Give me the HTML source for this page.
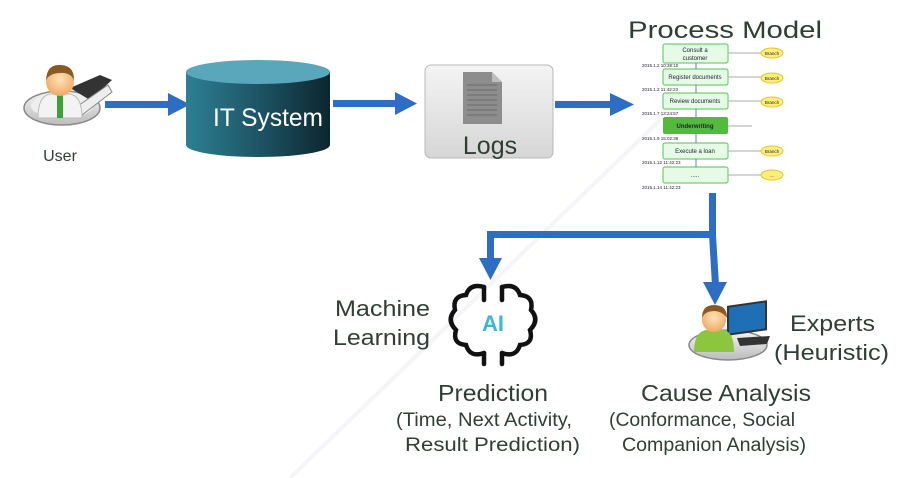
<!DOCTYPE html>
<html><head><meta charset="utf-8"><style>
html,body{margin:0;padding:0;background:#fff;width:921px;height:478px;overflow:hidden}
svg{display:block}
text{font-family:"Liberation Sans Narrow","Liberation Sans",sans-serif}
</style></head><body>
<svg width="921" height="478" viewBox="0 0 921 478" xmlns="http://www.w3.org/2000/svg">
<defs>
<linearGradient id="cyl" x1="0" x2="1"><stop offset="0" stop-color="#2d7f93"/><stop offset="0.5" stop-color="#1d5566"/><stop offset="1" stop-color="#0c2630"/></linearGradient>
<linearGradient id="logs" x1="0" y1="0" x2="0" y2="1"><stop offset="0" stop-color="#f4f4f4"/><stop offset="1" stop-color="#d6d6d6"/></linearGradient>
<radialGradient id="face" cx="0.5" cy="0.4" r="0.6"><stop offset="0" stop-color="#ffe3bd"/><stop offset="1" stop-color="#f0a860"/></radialGradient>
<linearGradient id="plat" x1="0" y1="0" x2="0" y2="1"><stop offset="0" stop-color="#f5f5f5"/><stop offset="1" stop-color="#bcbcbc"/></linearGradient>
</defs>
<line x1="290" y1="478" x2="660" y2="120" stroke="#f4f5f8" stroke-width="4"/>

<!-- User icon -->
<ellipse cx="62" cy="108" rx="38" ry="17" fill="url(#plat)" stroke="#888" stroke-width="1.5"/>
<ellipse cx="62" cy="106" rx="31" ry="12" fill="#eee"/>
<path d="M70 88 L100 75 L112 80 L90 100 Z" fill="#333"/>
<path d="M75 108 L108 85 L112 92 L82 115 Z" fill="#eee" stroke="#888"/>
<path d="M38 118 Q38 96 50 94 L70 94 Q82 96 82 118 Z" fill="#f3f3f3" stroke="#bbb"/>
<rect x="57" y="95" width="6" height="23" fill="#3aa23a"/>
<circle cx="60" cy="82" r="14" fill="url(#face)"/>
<path d="M46 80 Q47 64 60 65 Q74 65 74 80 Q70 72 60 73 Q50 73 46 80 Z" fill="#8a5a22"/>
<text x="60" y="161" font-size="16" fill="#2f3f33" text-anchor="middle" font-family="Liberation Sans">User</text>

<g fill="#2d6ec4">
<rect x="105" y="101" width="66" height="7"/><polygon points="168,93 190,104.5 168,116"/>
<rect x="333" y="100" width="64" height="7"/><polygon points="395,92 417,103.5 395,115"/>
<rect x="555" y="101" width="58" height="7"/><polygon points="610,93 634,104.5 610,116"/>
</g>

<path d="M186 72 L186 145 A72 12 0 0 0 330 145 L330 72 Z" fill="url(#cyl)"/>
<ellipse cx="258" cy="72" rx="72" ry="12" fill="#5aa6bb"/>
<text x="268" y="126" font-size="25" fill="#fff" text-anchor="middle" font-family="Liberation Sans" textLength="110" lengthAdjust="spacingAndGlyphs">IT System</text>

<rect x="425" y="65" width="128" height="93" rx="6" fill="url(#logs)" stroke="#b8b8b8"/>
<path d="M463 72 L492 72 L502 82 L502 124 L463 124 Z" fill="#8d8d8d"/>
<path d="M492 72 L492 82 L502 82 Z" fill="#bdbdbd"/>
<g stroke="#6a6a6a" stroke-width="1"><line x1="467" y1="85" x2="497" y2="85"/><line x1="467" y1="90" x2="497" y2="90"/><line x1="467" y1="95" x2="497" y2="95"/><line x1="467" y1="100" x2="497" y2="100"/><line x1="467" y1="105" x2="497" y2="105"/><line x1="467" y1="110" x2="497" y2="110"/><line x1="467" y1="115" x2="497" y2="115"/></g>
<text x="490" y="154" font-size="25" fill="#2f3f33" text-anchor="middle" font-family="Liberation Sans">Logs</text>

<text x="725" y="38" font-size="24" fill="#2d3f33" text-anchor="middle" font-family="Liberation Sans" textLength="194" lengthAdjust="spacingAndGlyphs">Process Model</text>
<g stroke="#aaa" stroke-width="1"><line x1="728" y1="53" x2="762" y2="53"/><line x1="728" y1="77" x2="762" y2="77"/><line x1="728" y1="101" x2="762" y2="101"/><line x1="728" y1="126" x2="752" y2="126"/><line x1="728" y1="151" x2="762" y2="151"/><line x1="728" y1="175" x2="762" y2="175"/></g>
<g fill="#e6fbe6" stroke="#6fd06f" stroke-width="1.2">
<rect x="663" y="44" width="65" height="19" rx="2"/>
<rect x="663" y="69" width="65" height="16" rx="2"/>
<rect x="663" y="93" width="65" height="16" rx="2"/>
<rect x="663" y="143" width="65" height="16" rx="2"/>
<rect x="663" y="167" width="65" height="16" rx="2"/>
</g>
<rect x="663" y="117" width="65" height="17" rx="2" fill="#52bb3c"/>
<g font-size="6" fill="#223" text-anchor="middle" font-family="Liberation Sans">
<text x="695" y="52">Consult a</text><text x="695" y="60">customer</text>
<text x="695" y="79">Register documents</text>
<text x="695" y="103">Review documents</text>
<text x="695" y="128" font-weight="bold">Underwriting</text>
<text x="695" y="153">Execute a loan</text>
<text x="695" y="177">.....</text>
</g>
<g font-size="4.5" fill="#223" font-family="Liberation Sans">
<text x="642" y="67">2015.1.2 10:38:10</text><text x="642" y="91">2015.1.2 11:42:23</text><text x="642" y="115">2015.1.7 13:24:57</text><text x="642" y="140">2015.1.9 15:02:38</text><text x="642" y="164">2015.1.12 11:42:23</text><text x="642" y="189">2015.1.14 11:42:23</text>
</g>
<g stroke="#5b7be0" stroke-width="1"><line x1="696" y1="63" x2="696" y2="69"/><line x1="696" y1="85" x2="696" y2="93"/><line x1="696" y1="109" x2="696" y2="117"/><line x1="696" y1="134" x2="696" y2="143"/><line x1="696" y1="159" x2="696" y2="167"/></g>
<g fill="#ffef7a" stroke="#e3c52a">
<ellipse cx="772" cy="53" rx="11" ry="5"/><ellipse cx="772" cy="78" rx="11" ry="5"/><ellipse cx="772" cy="102" rx="11" ry="5"/><ellipse cx="772" cy="151" rx="11" ry="5"/><ellipse cx="772" cy="175" rx="11" ry="5"/>
</g>
<g font-size="4.5" fill="#223" text-anchor="middle" font-family="Liberation Sans"><text x="772" y="55">Branch</text><text x="772" y="80">Branch</text><text x="772" y="104">Branch</text><text x="772" y="153">Branch</text><text x="772" y="177">....</text></g>

<g fill="#2d6ec4">
<rect x="709" y="193" width="7" height="42"/>
<rect x="487" y="231" width="229" height="7"/>
<rect x="487" y="231" width="7" height="30"/>
<polygon points="479,258 502,258 490.5,280"/>
<polygon points="709,235 716,235 719,285 712,285"/>
<polygon points="703,282 727,282 715,305"/>
</g>

<g fill="none" stroke="#111" stroke-width="4.5" stroke-linecap="round">
<path d="M484 287 Q470 283 466 295 Q452 296 455 310 Q446 320 456 330 Q452 344 466 345 Q470 358 484 353"/>
<path d="M502 287 Q516 283 520 295 Q534 296 531 310 Q540 320 530 330 Q534 344 520 345 Q516 358 502 353"/>
<line x1="484" y1="287" x2="484" y2="300"/><line x1="502" y1="287" x2="502" y2="300"/>
<line x1="484" y1="353" x2="484" y2="364"/><line x1="502" y1="353" x2="502" y2="364"/>
</g>
<text x="493" y="331" font-size="22" font-weight="bold" fill="#3bb7d6" text-anchor="middle" font-family="Liberation Sans">AI</text>
<text x="430" y="316" font-size="22" fill="#2f3f33" text-anchor="end" textLength="95" lengthAdjust="spacingAndGlyphs">Machine</text>
<text x="430" y="345" font-size="22" fill="#2f3f33" text-anchor="end" textLength="97" lengthAdjust="spacingAndGlyphs">Learning</text>

<ellipse cx="728" cy="345" rx="39" ry="15" fill="url(#plat)" stroke="#888" stroke-width="1.5"/>
<rect x="728" y="307" width="38" height="28" fill="#1e6fb5" stroke="#333" stroke-width="2" transform="skewY(-8) translate(0,102)"/>
<path d="M737 338 L770 336 L767 344 L740 346 Z" fill="#333"/>
<path d="M694 352 Q694 332 706 330 L724 330 Q734 332 734 352 Z" fill="#8cc63f"/>
<circle cx="714" cy="320" r="12" fill="url(#face)"/>
<path d="M702 318 Q702 305 714 305 Q727 305 727 318 Q722 311 714 311 Q705 311 702 318 Z" fill="#8a5a22"/>
<text x="790" y="331" font-size="22" fill="#2f3f33" textLength="85" lengthAdjust="spacingAndGlyphs">Experts</text>
<text x="774" y="360" font-size="22" fill="#2f3f33" textLength="115" lengthAdjust="spacingAndGlyphs">(Heuristic)</text>

<text x="438" y="401" font-size="23" fill="#2f3f33" textLength="110" lengthAdjust="spacingAndGlyphs">Prediction</text>
<text x="396" y="426" font-size="19" fill="#2f3f33" textLength="176" lengthAdjust="spacingAndGlyphs">(Time, Next Activity,</text>
<text x="405" y="451" font-size="19" fill="#2f3f33" textLength="175" lengthAdjust="spacingAndGlyphs">Result Prediction)</text>
<text x="641" y="401" font-size="23" fill="#2f3f33" textLength="170" lengthAdjust="spacingAndGlyphs">Cause Analysis</text>
<text x="609" y="426" font-size="19" fill="#2f3f33" textLength="186" lengthAdjust="spacingAndGlyphs">(Conformance, Social</text>
<text x="622" y="451" font-size="19" fill="#2f3f33" textLength="184" lengthAdjust="spacingAndGlyphs">Companion Analysis)</text>
</svg>
</body></html>
